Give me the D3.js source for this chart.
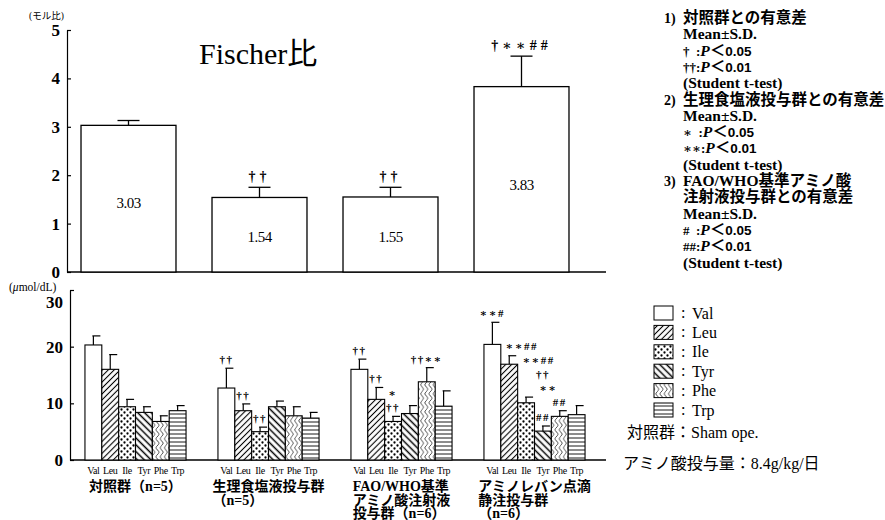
<!DOCTYPE html>
<html>
<head>
<meta charset="utf-8">
<script src="https://cdn.jsdelivr.net/npm/d3@7"></script>
<style>
  body { margin: 0; background: #fff; }
  svg { font-family: "Liberation Serif", "Noto Sans CJK JP", serif; }
</style>
</head>
<body>
<div id="vizContainer"></div>
<script>
let w = 885;
let h = 520;

// ---- data ----
let groups = ["対照群", "生理食塩液投与群", "FAO/WHO基準アミノ酸注射液投与群", "アミノレバン点滴静注投与群"];
let groupLabels = [
  ["対照群（n=5）"],
  ["生理食塩液投与群", "（n=5）"],
  ["FAO/WHO基準", "アミノ酸注射液", "投与群（n=6）"],
  ["アミノレバン点滴", "静注投与群", "（n=6）"]
];

// Fischer ratio (top chart)
let fischer = [3.03, 1.54, 1.55, 3.83];
let fischerSD = [0.10, 0.21, 0.20, 0.63];
let fischerMarks = ["", "††", "††", "†∗∗##"];
let fischerTicks = [0, 1, 2, 3, 4, 5];

// amino acids (bottom chart)
let acids = ["Val", "Leu", "Ile", "Tyr", "Phe", "Trp"];
let controlMean = [20.3, 16.0, 9.4, 8.4, 6.8, 8.7];
let controlSD   = [1.6, 2.6, 1.3, 1.0, 1.0, 0.9];
let salineMean  = [12.7, 8.7, 5.0, 9.4, 7.8, 7.4];
let salineSD    = [3.5, 1.2, 0.8, 1.0, 1.6, 1.0];
let faoMean     = [16.0, 10.7, 6.8, 8.2, 13.8, 9.5];
let faoSD       = [1.8, 2.1, 0.9, 1.4, 2.5, 2.7];
let aminoMean   = [20.4, 16.9, 10.1, 5.1, 7.7, 8.0];
let aminoSD     = [3.9, 1.5, 1.0, 0.9, 1.0, 1.6];
let controlMarks = ["", "", "", "", "", ""];
let salineMarks  = ["††", "††", "††", "", "", ""];
let faoMarks     = ["††", "††", "∗|††", "", "††∗∗", ""];
let aminoMarks   = ["∗∗#", "∗∗##", "∗∗##", "††|∗∗|##", "##", ""];
let acidTicks = [0, 10, 20, 30];

let notes = [
  ["1)", "対照群との有意差"],
  ["", "Mean±S.D."],
  ["", "†  :P＜0.05"],
  ["", "††:P＜0.01"],
  ["", "(Student t-test)"],
  ["2)", "生理食塩液投与群との有意差"],
  ["", "Mean±S.D."],
  ["", "∗  :P＜0.05"],
  ["", "∗∗:P＜0.01"],
  ["", "(Student t-test)"],
  ["3)", "FAO/WHO基準アミノ酸"],
  ["", "注射液投与群との有意差"],
  ["", "Mean±S.D."],
  ["", "#  :P＜0.05"],
  ["", "##:P＜0.01"],
  ["", "(Student t-test)"]
];

let acidTable = [
  {mean: controlMean, sd: controlSD, marks: controlMarks},
  {mean: salineMean, sd: salineSD, marks: salineMarks},
  {mean: faoMean, sd: faoSD, marks: faoMarks},
  {mean: aminoMean, sd: aminoSD, marks: aminoMarks}
];
let acidData = [];
acidTable.forEach((g, gi) => {
  acids.forEach((a, ai) => {
    acidData.push({group: groups[gi], acid: a, gi: gi, ai: ai, mean: g.mean[ai], sd: g.sd[ai], mark: g.marks[ai]});
  });
});

let markFont = "Liberation Serif, DejaVu Serif";

let viz = d3.select("#vizContainer").append("svg")
    .attr("width", w)
    .attr("height", h)
    .style("background-color", "white")
;

// ---- patterns ----
let defs = viz.append("defs");
function linePattern(id, angle, spacing, sw){
  let p = defs.append("pattern")
      .attr("id", id)
      .attr("patternUnits", "userSpaceOnUse")
      .attr("width", spacing)
      .attr("height", spacing)
      .attr("patternTransform", "rotate(" + angle + ")");
  p.append("rect").attr("width", spacing).attr("height", spacing).attr("fill", "white");
  p.append("line")
      .attr("x1", spacing/2).attr("y1", 0)
      .attr("x2", spacing/2).attr("y2", spacing)
      .attr("stroke", "black").attr("stroke-width", sw);
}
linePattern("pat-Leu", 45, 4.2, 1.1);
linePattern("pat-Tyr", -45, 4.8, 1.5);
linePattern("pat-Trp", 90, 4, 0.9);

let dots = defs.append("pattern")
    .attr("id", "pat-Ile")
    .attr("patternUnits", "userSpaceOnUse")
    .attr("width", 6).attr("height", 6);
dots.append("rect").attr("width", 6).attr("height", 6).attr("fill", "white");
dots.append("circle").attr("cx", 1.5).attr("cy", 1.5).attr("r", 1.15).attr("fill", "black");
dots.append("circle").attr("cx", 4.5).attr("cy", 4.5).attr("r", 1.15).attr("fill", "black");

let wave = defs.append("pattern")
    .attr("id", "pat-Phe")
    .attr("patternUnits", "userSpaceOnUse")
    .attr("width", 4.2).attr("height", 9);
wave.append("rect").attr("width", 4.2).attr("height", 9).attr("fill", "white");
wave.append("path")
    .attr("d", "M2.1,0 C3.9,2.25 3.9,2.25 2.1,4.5 C0.3,6.75 0.3,6.75 2.1,9")
    .attr("fill", "none").attr("stroke", "black").attr("stroke-width", 0.8);

function acidFill(a){
  return a == "Val" ? "white" : "url(#pat-" + a + ")";
}

// ================= top chart: Fischer ratio =================
let topChart = viz.append("g").attr("class", "fischer");
let tx = d3.scaleBand().domain(groups).range([63, 587]).paddingInner(0.275).paddingOuter(0.1375);
let ty = d3.scaleLinear().domain([0, 5]).range([272, 30]);

let tyAxis = d3.axisLeft(ty).tickValues(fischerTicks).tickFormat(d3.format("d"))
    .tickSize(-4).tickSizeOuter(0).tickPadding(7);
let tyAxisGroup = topChart.append("g")
    .attr("transform", "translate(67,0)")
    .call(tyAxis);
tyAxisGroup.selectAll("path, line").attr("stroke", "black").attr("stroke-width", 1.2);
tyAxisGroup.selectAll("text")
    .attr("font-family", "Liberation Serif")
    .attr("font-size", 17)
    .attr("font-weight", "bold")
    .attr("fill", "black");

topChart.append("line")
    .attr("x1", 67).attr("x2", 606)
    .attr("y1", ty(0)).attr("y2", ty(0))
    .attr("stroke", "black").attr("stroke-width", 1.3);

topChart.append("text")
    .attr("x", 29).attr("y", 19)
    .attr("font-size", 9.5)
    .text("(モル比)");

topChart.append("text")
    .attr("x", 199).attr("y", 64)
    .attr("font-size", 30)
    .text("Fischer比");

let fgroups = topChart.selectAll(".fbar").data(fischer).enter()
  .append("g").attr("class", "fbar");

fgroups.append("line")
    .attr("x1", (d, i) => tx(groups[i]) + tx.bandwidth()/2)
    .attr("x2", (d, i) => tx(groups[i]) + tx.bandwidth()/2)
    .attr("y1", d => ty(d))
    .attr("y2", (d, i) => ty(d + fischerSD[i]))
    .attr("stroke", "black").attr("stroke-width", 1.3);
fgroups.append("line")
    .attr("x1", (d, i) => tx(groups[i]) + tx.bandwidth()/2 - 11)
    .attr("x2", (d, i) => tx(groups[i]) + tx.bandwidth()/2 + 11)
    .attr("y1", (d, i) => ty(d + fischerSD[i]))
    .attr("y2", (d, i) => ty(d + fischerSD[i]))
    .attr("stroke", "black").attr("stroke-width", 1.3);
fgroups.append("rect")
    .attr("x", (d, i) => tx(groups[i]))
    .attr("y", d => ty(d))
    .attr("width", tx.bandwidth())
    .attr("height", d => ty(0) - ty(d))
    .attr("fill", "white")
    .attr("stroke", "black").attr("stroke-width", 1.3);
fgroups.append("text")
    .attr("x", (d, i) => tx(groups[i]) + tx.bandwidth()/2)
    .attr("y", d => ty(d * 0.47) + 5)
    .attr("text-anchor", "middle")
    .attr("font-size", 15)
    .attr("letter-spacing", -0.5)
    .text(d => d.toFixed(2));
fgroups.append("text")
    .attr("x", (d, i) => tx(groups[i]) + tx.bandwidth()/2)
    .attr("y", (d, i) => ty(d + fischerSD[i]) - 6)
    .attr("text-anchor", "middle")
    .attr("font-family", markFont)
    .attr("font-size", 14)
    .attr("font-weight", "bold")
    .attr("letter-spacing", 4)
    .text((d, i) => fischerMarks[i]);

// notes, top right
let noteG = viz.append("g").attr("class", "notes").attr("font-weight", "bold");
notes.forEach((n, i) => {
  let y = 23 + i * 16.3;
  if(n[0] != ""){
    noteG.append("text").attr("x", 664).attr("y", y).attr("font-size", 14).text(n[0]);
  }
  let t = noteG.append("text").attr("x", 683).attr("y", y).attr("font-size", 15.5)
      .style("white-space", "pre");
  let parts = n[1].split("P＜");
  if(parts.length == 2){
    t.append("tspan").attr("font-family", markFont).attr("font-size", 13).text(parts[0]);
    t.append("tspan").attr("font-style", "italic").text("P");
    t.append("tspan").text("＜");
    t.append("tspan").attr("font-family", "Liberation Sans").attr("font-size", 13.5).text(parts[1]);
  } else {
    t.text(n[1]);
  }
});

// ================= bottom chart: amino acids =================
let bot = viz.append("g").attr("class", "acids");
let gx = d3.scaleBand().domain(groups).range([69, 601]).paddingInner(0.24).paddingOuter(0.12);
let ax = d3.scaleBand().domain(acids).range([0, gx.bandwidth()]);
let by = d3.scaleLinear().domain([0, 30]).range([460, 290]);

let byAxis = d3.axisLeft(by).tickValues(acidTicks).tickFormat(d3.format("d"))
    .tickSize(-4).tickSizeOuter(0).tickPadding(7);
let byAxisGroup = bot.append("g")
    .attr("transform", "translate(70,0)")
    .call(byAxis);
byAxisGroup.selectAll("path, line").attr("stroke", "black").attr("stroke-width", 1.2);
byAxisGroup.selectAll("text")
    .attr("font-family", "Liberation Serif")
    .attr("font-size", 17)
    .attr("font-weight", "bold")
    .attr("fill", "black");
// the top label sits a little below its tick in the original
byAxisGroup.selectAll(".tick").filter(d => d == 30).select("text").attr("dy", "1.05em");

bot.append("line")
    .attr("x1", 70).attr("x2", 606)
    .attr("y1", by(0)).attr("y2", by(0))
    .attr("stroke", "black").attr("stroke-width", 1.3);

let unit = bot.append("text").attr("x", 9).attr("y", 291).attr("font-size", 11.5);
unit.append("tspan").text("(");
unit.append("tspan").attr("font-style", "italic").text("μ");
unit.append("tspan").text("mol/dL)");

function barX(d){ return gx(d.group) + ax(d.acid); }
function capY(d){ return by(d.mean + d.sd); }

let abars = bot.selectAll(".abar").data(acidData).enter()
  .append("g").attr("class", "abar");
abars.append("line")
    .attr("x1", d => barX(d) + ax.bandwidth()/2)
    .attr("x2", d => barX(d) + ax.bandwidth()/2)
    .attr("y1", d => by(d.mean))
    .attr("y2", d => capY(d))
    .attr("stroke", "black").attr("stroke-width", 1.2);
abars.append("line")
    .attr("x1", d => barX(d) + ax.bandwidth()/2 - 1)
    .attr("x2", d => barX(d) + ax.bandwidth()/2 + 7)
    .attr("y1", d => capY(d))
    .attr("y2", d => capY(d))
    .attr("stroke", "black").attr("stroke-width", 1.2);
abars.append("rect")
    .attr("x", d => barX(d))
    .attr("y", d => by(d.mean))
    .attr("width", ax.bandwidth())
    .attr("height", d => by(0) - by(d.mean))
    .attr("fill", d => acidFill(d.acid))
    .attr("stroke", "black").attr("stroke-width", 1.1);

// significance marks above the bars, placed right to left so they can dodge each other
let markG = bot.append("g").attr("class", "marks");
function hits(placed, x, tw, y){
  return placed.filter(b => x < b.x1 && x + tw > b.x0 && y - 11 < b.y1 && y + 3 > b.y0);
}
groups.forEach((g, gi) => {
  let placed = [];
  for(let ai = acids.length - 1; ai >= 0; ai--){
    let d = acidData[gi * acids.length + ai];
    if(d.mark == "") continue;
    let prev = ai > 0 ? acidData[gi * acids.length + ai - 1] : null;
    let lines = d.mark.split("|").reverse();
    let base = capY(d) - 5;
    lines.forEach(m => {
      let t = markG.append("text")
          .attr("font-family", markFont)
          .attr("font-size", 11)
          .attr("font-weight", "bold")
          .attr("letter-spacing", 1.5)
          .text(m);
      let tw = t.node().getComputedTextLength();
      let x = barX(d) + ax.bandwidth()/2 - tw/2;
      if(tw > ax.bandwidth() && prev && capY(prev) < capY(d)) x = barX(d) + 5;
      let y = base;
      let hit = hits(placed, x, tw, y);
      while(hit.length){
        y = d3.min(hit, b => b.y0) - 3;
        hit = hits(placed, x, tw, y);
      }
      t.attr("x", x).attr("y", y);
      placed.push({x0: x, x1: x + tw, y0: y - 11, y1: y + 3});
      base = y - 13;
    });
  }
});

// acid names under each bar
bot.selectAll(".aname").data(acidData).enter()
  .append("text")
    .attr("class", "aname")
    .attr("x", d => barX(d) + ax.bandwidth()/2)
    .attr("y", 474)
    .attr("text-anchor", "middle")
    .attr("font-size", 10)
    .attr("letter-spacing", -0.3)
    .text(d => d.acid);

// group names
groupLabels.forEach((lines, gi) => {
  let g = bot.append("g").attr("font-size", 14).attr("font-weight", "bold");
  let texts = lines.map((l, k) => g.append("text").attr("y", 491 + k * 13.5).text(l));
  let maxW = d3.max(texts, t => t.node().getComputedTextLength());
  let x0 = gx(groups[gi]) + gx.bandwidth()/2 - maxW/2;
  texts.forEach(t => t.attr("x", x0));
});

// legend
let ly = d3.scalePoint().domain(acids).range([313, 410]);
let legend = viz.append("g").attr("class", "legend");
acids.forEach(a => {
  legend.append("rect")
      .attr("x", 654).attr("y", ly(a) - 7)
      .attr("width", 19).attr("height", 14)
      .attr("fill", acidFill(a))
      .attr("stroke", "black").attr("stroke-width", 1);
  legend.append("text")
      .attr("x", 681).attr("y", ly(a) + 5)
      .attr("font-size", 16)
      .text(":");
  legend.append("text")
      .attr("x", 692).attr("y", ly(a) + 5.5)
      .attr("font-size", 16)
      .text(a);
});
legend.append("text")
    .attr("x", 627).attr("y", 438)
    .attr("font-size", 16)
    .text("対照群：Sham ope.");
legend.append("text")
    .attr("x", 623).attr("y", 469)
    .attr("font-size", 16)
    .text("アミノ酸投与量：8.4g/kg/日");
</script>
</body>
</html>
